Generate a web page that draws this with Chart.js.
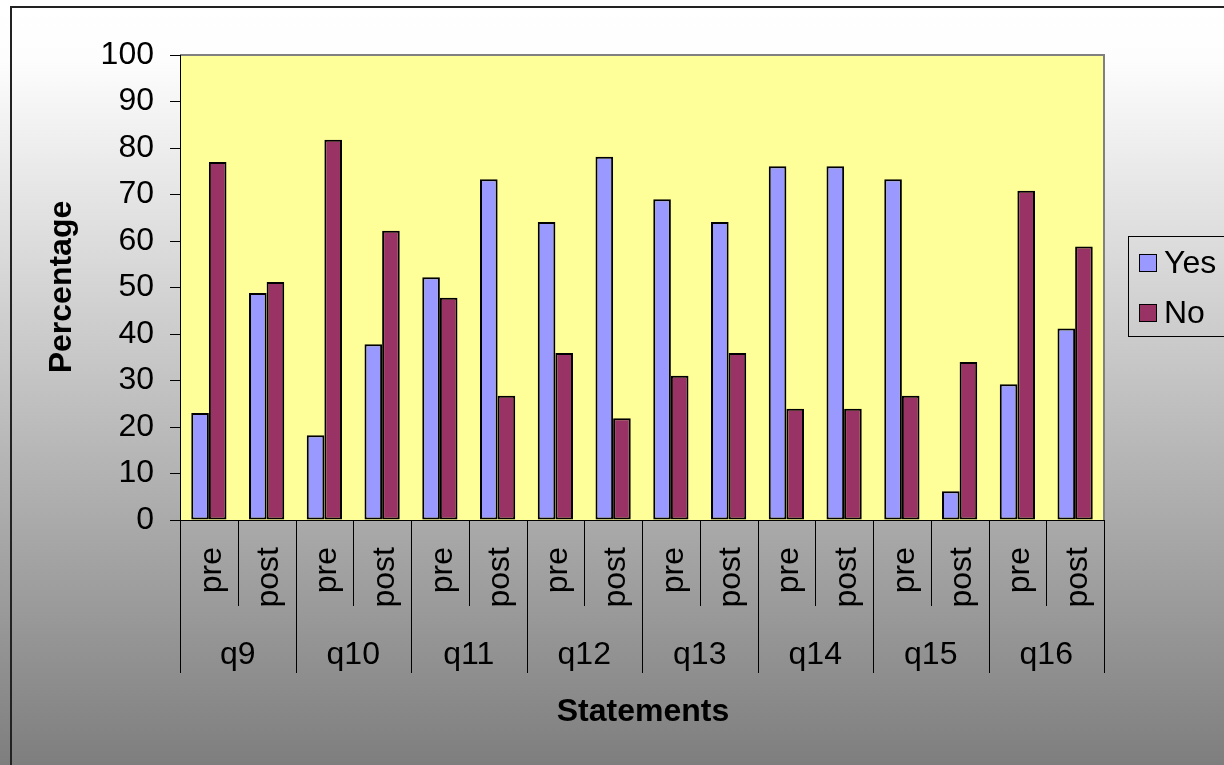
<!DOCTYPE html>
<html>
<head>
<meta charset="utf-8">
<script src="https://cdn.jsdelivr.net/npm/chart.js@4"></script>
<style>
html,body{margin:0;padding:0;background:#fff;}
#wrap{width:1224px;height:765px;position:relative;}
</style>
</head>
<body>
<div id="wrap"><canvas id="c" width="1224" height="765"></canvas></div>
<script>
const groups = ['q9','q10','q11','q12','q13','q14','q15','q16'];
const phases = ['pre','post'];
const yesValues = [23, 48.8, 18.2, 37.8, 52.2, 73.3, 64.1, 78.1, 69, 64.1, 76.1, 76.1, 73.3, 6.2, 29.2, 41.2];
const noValues  = [77, 51.2, 81.8, 62.2, 47.8, 26.7, 35.9, 21.9, 31, 35.9, 23.9, 23.9, 26.7, 34, 70.8, 58.8];
const seriesNames = ['Yes','No'];
const yTitle = 'Percentage';
const xTitle = 'Statements';

const categories = [];
groups.forEach(g => phases.forEach(p => categories.push(g + ' ' + p)));

const FONT = '"Liberation Sans", Arial, sans-serif';
const FS = 32;
const colYes = '#9999FF', colNo = '#993366';

const decor = {
  id: 'decor',
  beforeDraw(chart) {
    const ctx = chart.ctx, a = chart.chartArea;
    ctx.save();
    const g = ctx.createLinearGradient(0, 0, 0, 765);
    g.addColorStop(0, '#FFFFFF');
    g.addColorStop(0.08, '#FDFDFD');
    g.addColorStop(1, '#7E7E7E');
    ctx.fillStyle = g;
    ctx.fillRect(0, 0, 1224, 765);
    ctx.strokeStyle = '#222';
    ctx.lineWidth = 2;
    ctx.beginPath();
    ctx.moveTo(11, 780); ctx.lineTo(11, 7); ctx.lineTo(1240, 7);
    ctx.stroke();
    ctx.fillStyle = '#FFFF99';
    ctx.fillRect(a.left, a.top, a.right - a.left, a.bottom - a.top);
    ctx.strokeStyle = '#808080';
    ctx.lineWidth = 2;
    ctx.beginPath();
    ctx.moveTo(a.left, a.top); ctx.lineTo(a.right, a.top); ctx.lineTo(a.right, a.bottom);
    ctx.stroke();
    ctx.restore();
  },
  afterDraw(chart) {
    const ctx = chart.ctx, a = chart.chartArea;
    const xs = chart.scales.x;
    const n = categories.length;
    const w = (a.right - a.left) / n;
    ctx.save();
    ctx.strokeStyle = '#000';
    ctx.lineWidth = 1;
    ctx.fillStyle = '#000';
    ctx.font = FS + 'px ' + FONT;
    for (let i = 0; i <= n; i++) {
      const x = Math.round(a.left + i * w) + 0.5;
      const len = (i % phases.length === 0) ? 153 : 86;
      ctx.beginPath();
      ctx.moveTo(x, a.bottom);
      ctx.lineTo(x, a.bottom + len);
      ctx.stroke();
    }
    categories.forEach((c, i) => {
      const cx = xs.getPixelForValue(i);
      const label = phases[i % phases.length];
      ctx.save();
      ctx.translate(cx + 3, a.bottom + 27);
      ctx.rotate(-Math.PI / 2);
      ctx.textAlign = 'right';
      ctx.textBaseline = 'middle';
      ctx.fillText(label, 0, 0);
      ctx.restore();
    });
    ctx.textAlign = 'center';
    ctx.textBaseline = 'middle';
    groups.forEach((g, gi) => {
      const x0 = xs.getPixelForValue(gi * phases.length);
      const x1 = xs.getPixelForValue(gi * phases.length + phases.length - 1);
      ctx.fillText(g, (x0 + x1) / 2, 655);
    });
    ctx.font = 'bold ' + FS + 'px ' + FONT;
    ctx.fillText(xTitle, 643, 712);
    ctx.save();
    ctx.translate(62, 287);
    ctx.rotate(-Math.PI / 2);
    ctx.fillText(yTitle, 0, 0);
    ctx.restore();
    ctx.strokeStyle = '#000';
    ctx.lineWidth = 1;
    ctx.strokeRect(1128.5, 236.5, 120, 100);
    ctx.font = FS + 'px ' + FONT;
    ctx.textAlign = 'left';
    const cols = [colYes, colNo];
    seriesNames.forEach((s, i) => {
      const y = 254 + i * 50;
      ctx.fillStyle = cols[i];
      ctx.fillRect(1139, y, 18, 18);
      ctx.strokeRect(1139.5, y + 0.5, 17, 17);
      ctx.fillStyle = '#000';
      ctx.fillText(s, 1164, y + 10);
    });
    ctx.restore();
  }
};

new Chart(document.getElementById('c'), {
  type: 'bar',
  data: {
    labels: categories,
    datasets: [
      { label: seriesNames[0], data: yesValues, backgroundColor: colYes, borderColor: '#000', borderWidth: 2, borderSkipped: false },
      { label: seriesNames[1], data: noValues, backgroundColor: colNo, borderColor: '#000', borderWidth: 2, borderSkipped: false }
    ]
  },
  options: {
    responsive: false,
    animation: false,
    devicePixelRatio: 1,
    layout: { padding: { top: 55, right: 120, bottom: 0, left: 0 } },
    datasets: { bar: { categoryPercentage: 0.61, barPercentage: 1.0 } },
    plugins: { legend: { display: false }, tooltip: { enabled: false } },
    scales: {
      x: {
        ticks: { display: false },
        grid: { display: false },
        border: { display: true, color: '#000', width: 1 },
        afterFit(s) { s.height = 245; }
      },
      y: {
        min: 0, max: 100,
        ticks: { stepSize: 10, color: '#000', font: { size: FS, family: FONT }, padding: 16 },
        grid: { drawOnChartArea: false, drawTicks: true, tickLength: 10, color: '#000' },
        border: { display: true, color: '#000', width: 1 },
        afterFit(s) { s.width = 180; }
      }
    }
  },
  plugins: [decor]
});
</script>
</body>
</html>
